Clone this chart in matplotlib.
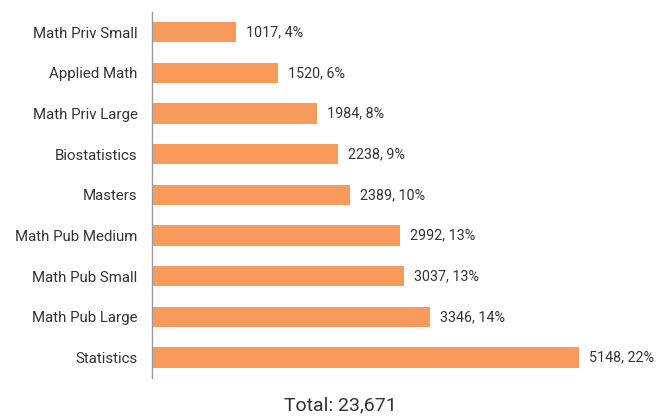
import matplotlib
matplotlib.use("Agg")
import matplotlib.pyplot as plt

categories = ["Statistics", "Math Pub Large", "Math Pub Small", "Math Pub Medium",
              "Masters", "Biostatistics", "Math Priv Large", "Applied Math",
              "Math Priv Small"]
counts = [5148, 3346, 3037, 2992, 2389, 2238, 1984, 1520, 1017]
percents = [22, 14, 13, 13, 10, 9, 8, 6, 4]
total_text = "Total: 23,671"

plt.rcParams['font.family'] = ['Roboto', 'DejaVu Sans']

fig = plt.figure(figsize=(6.57, 4.18), dpi=100)
ax = fig.add_axes([0.2314, 0.0957, 0.7586, 0.8756])

ypos = list(range(len(categories)))
ax.barh(ypos, counts, height=0.5, color="#F79A5C")
ax.set_ylim(-0.5, len(categories) - 0.5)
ax.set_xlim(0, 6006)

for y, c, p in zip(ypos, counts, percents):
    ax.text(c + 120, y, f"{c}, {p}%", va="center", ha="left",
            fontsize=10.3, color="#333333")

ax.set_yticks(ypos)
ax.set_yticklabels(categories, fontsize=10.8, color="#333333")
ax.tick_params(axis="y", length=0, pad=10.5)
ax.set_xticks([])
for s in ["top", "right", "bottom"]:
    ax.spines[s].set_visible(False)
ax.spines["left"].set_color("#999999")
ax.spines["left"].set_linewidth(1)

fig.text(0.518, 0.03, total_text, ha="center", va="center", fontsize=14,
         color="#333333")

fig.savefig("out.png", dpi=100)
